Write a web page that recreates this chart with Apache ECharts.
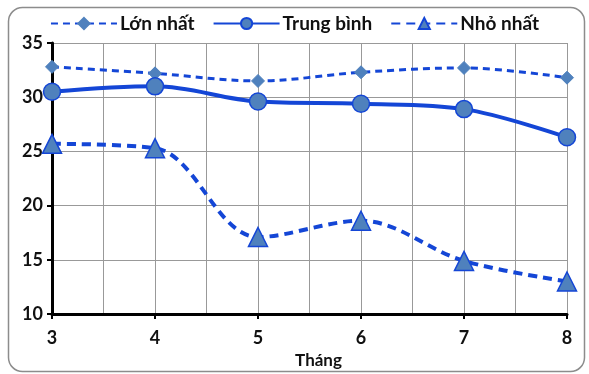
<!DOCTYPE html>
<html><head><meta charset="utf-8">
<script src="https://cdn.jsdelivr.net/npm/echarts@6/dist/echarts.min.js"></script>
<style>html,body{margin:0;padding:0;background:#fff}#c{width:589px;height:374px}</style>
</head><body><div id="c"></div>
<script>
const months = [3, 4, 5, 6, 7, 8];
const maxVals = [32.8, 32.2, 31.5, 32.3, 32.7, 31.8];
const avgVals = [30.5, 31.0, 29.6, 29.4, 28.9, 26.3];
const minVals = [25.7, 25.3, 17.1, 18.6, 14.9, 13.0];
const seriesNames = ['Lớn nhất', 'Trung bình', 'Nhỏ nhất'];
const yTicks = [10, 15, 20, 25, 30, 35];

const pair = vals => months.map((m, i) => [m, vals[i]]);
const font = 'Lato, "Open Sans", sans-serif';
const lineColor = '#1446d6';
const fillColor = '#4f81bd';

const chart = echarts.init(document.getElementById('c'));
chart.setOption({
  animation: false,
  textStyle: { fontFamily: font },
  graphic: [{
    type: 'rect', left: 6, top: 5,
    shape: { width: 576, height: 364, r: 14 },
    style: { fill: 'none', stroke: '#8c8c8c', lineWidth: 1.5 }
  }],
  legend: {
    top: 9, left: 'center', itemGap: 18, itemWidth: 66, itemHeight: 14,
    textStyle: { fontSize: 19, fontWeight: 'bold', color: '#111', fontFamily: font, padding: [0, 0, 0, -2] },
    data: seriesNames
  },
  grid: { left: 52, right: 22, top: 43, bottom: 60 },
  xAxis: {
    type: 'value', min: months[0], max: months[months.length - 1], interval: 1,
    name: 'Tháng', nameLocation: 'middle', nameGap: 31,
    nameTextStyle: { fontSize: 17, fontWeight: 'bold', color: '#111', padding: [0, 0, 0, 18] },
    axisLine: { lineStyle: { color: '#000', width: 3 } },
    axisTick: { show: true, length: 5, lineStyle: { color: '#000', width: 2 } },
    axisLabel: { fontSize: 18, fontWeight: 'bold', color: '#111', margin: 15 },
    splitLine: { show: true, lineStyle: { color: '#999', width: 1 } },
    minorTick: { show: false, splitNumber: 2 },
    minorSplitLine: { show: true, lineStyle: { color: '#999', width: 1 } }
  },
  yAxis: {
    type: 'value', min: yTicks[0], max: yTicks[yTicks.length - 1], interval: 5,
    axisLine: { show: true, lineStyle: { color: '#000', width: 3 } },
    axisTick: { show: true, length: 5, lineStyle: { color: '#000', width: 2 } },
    axisLabel: { fontSize: 18, fontWeight: 'bold', color: '#111', margin: 9 },
    splitLine: { show: true, lineStyle: { color: '#999', width: 1 } }
  },
  series: [
    {
      name: seriesNames[0], type: 'line', smooth: 0.35, data: pair(maxVals),
      symbol: 'diamond', symbolSize: 13,
      lineStyle: { color: lineColor, width: 3, type: [7, 5] },
      itemStyle: { color: fillColor, borderColor: fillColor, borderWidth: 1 }
    },
    {
      name: seriesNames[1], type: 'line', smooth: 0.35, data: pair(avgVals),
      symbol: 'circle', symbolSize: 17,
      lineStyle: { color: lineColor, width: 4 },
      itemStyle: { color: fillColor, borderColor: lineColor, borderWidth: 1.5 }
    },
    {
      name: seriesNames[2], type: 'line', smooth: 0.35, data: pair(minVals),
      symbol: 'triangle', symbolSize: 19,
      lineStyle: { color: lineColor, width: 4, type: [9, 6] },
      itemStyle: { color: fillColor, borderColor: lineColor, borderWidth: 1.5 }
    }
  ]
});
</script></body></html>
